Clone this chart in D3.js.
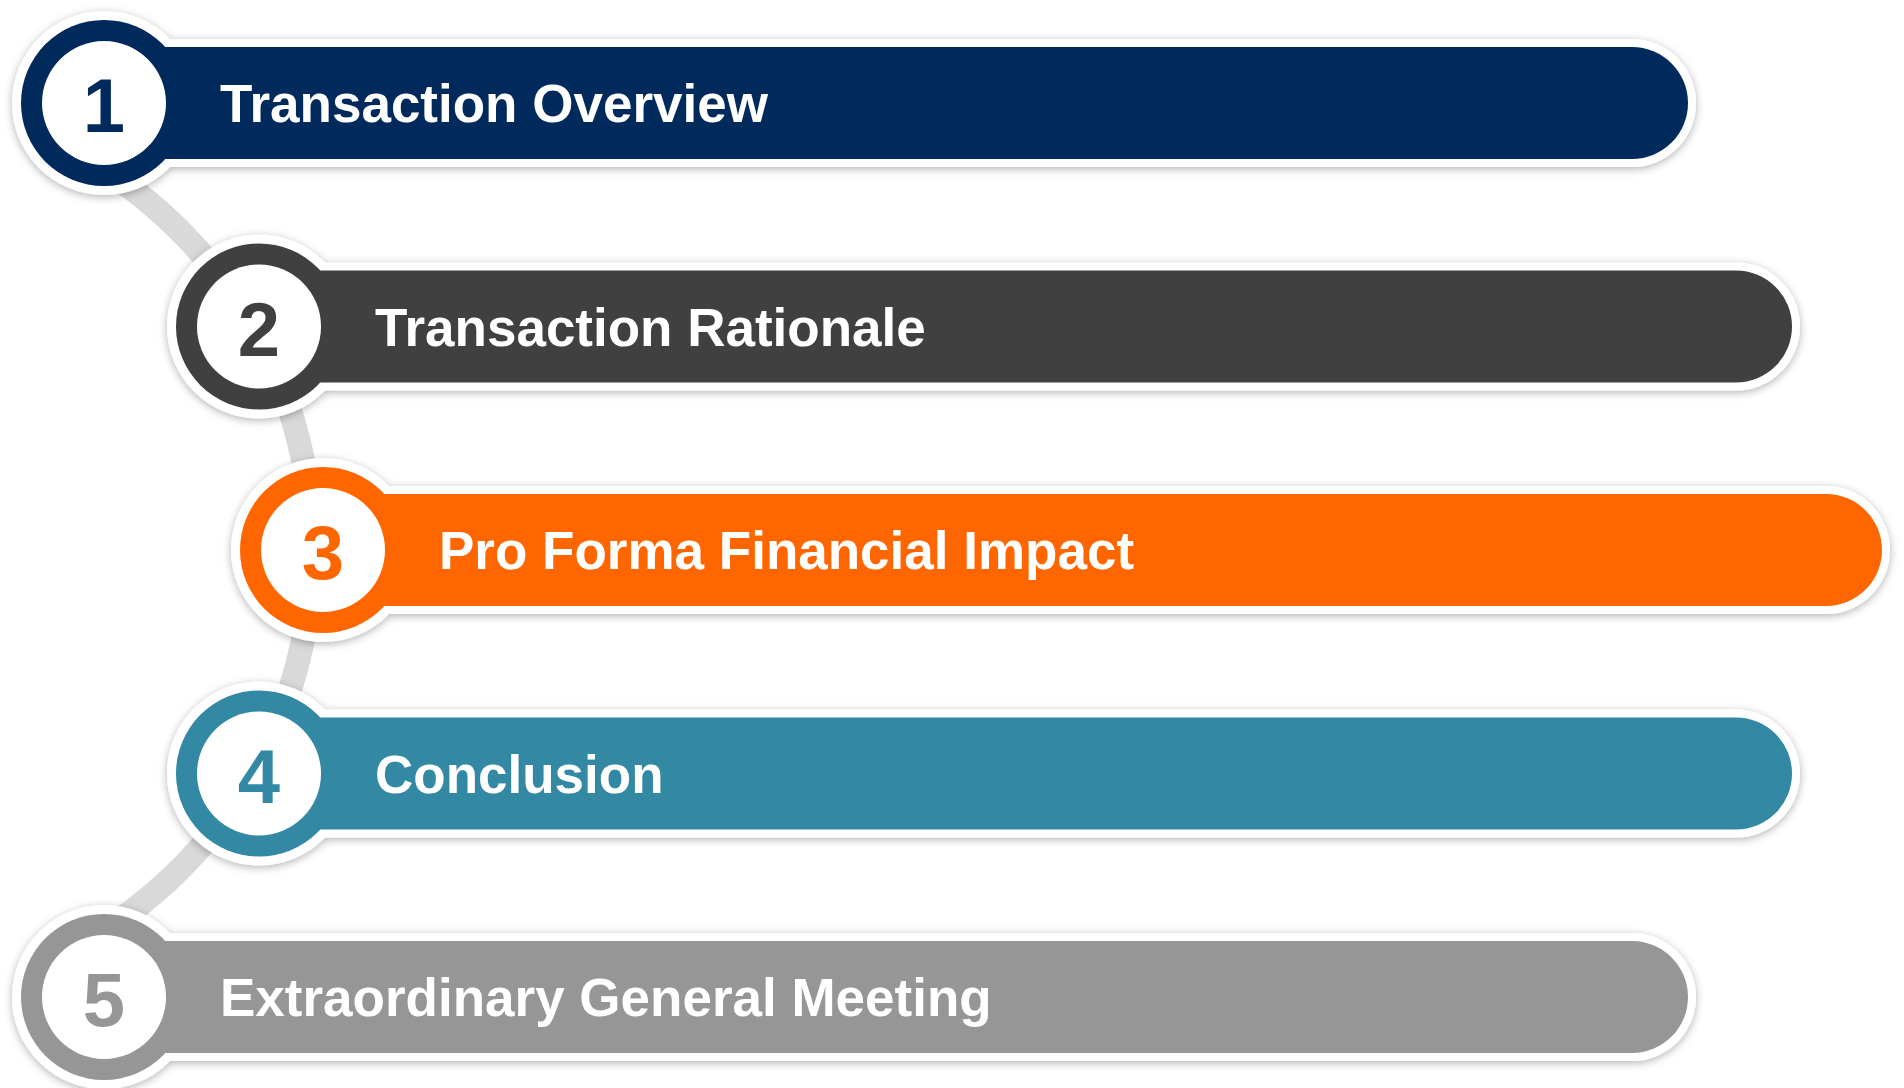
<!DOCTYPE html>
<html>
<head>
<meta charset="utf-8">
<script src="https://cdn.jsdelivr.net/npm/d3@7"></script>
<style>
  html, body { margin: 0; padding: 0; background: #fff; }
  svg { display: block; }
</style>
</head>
<body>
<div id="chart"></div>
<script>
// Agenda steps
const stepNumbers = ["1", "2", "3", "4", "5"];
const stepLabels = [
    "Transaction Overview",
    "Transaction Rationale",
    "Pro Forma Financial Impact",
    "Conclusion",
    "Extraordinary General Meeting"
];
// how far each step is pushed to the right (0 = leftmost)
const stepLevels = [0, 1, 2, 1, 0];

// palette, one per step
const stepColors = ["#002a5c", "#404040", "#ff6600", "#3389a3", "#969696"];

const width = 1904;
const height = 1088;

const svg = d3.select("#chart")
    .append("svg")
    .attr("width", width)
    .attr("height", height)
    .attr("viewBox", `0 0 ${width} ${height}`);

// soft shadow under the white outlines
const defs = svg.append("defs");
const shadow = defs.append("filter")
    .attr("id", "shadow")
    .attr("x", "-10%").attr("y", "-30%")
    .attr("width", "120%").attr("height", "160%");
shadow.append("feDropShadow")
    .attr("dx", 0)
    .attr("dy", 2)
    .attr("stdDeviation", 4)
    .attr("flood-color", "#000")
    .attr("flood-opacity", 0.3);

const steps = stepNumbers.map((n, i) => ({
    num: n,
    label: stepLabels[i],
    level: stepLevels[i],
    color: stepColors[i]
}));

// scales
const y = d3.scalePoint()
    .domain(stepNumbers)
    .range([103, 997]);

const cx = d3.scaleOrdinal()
    .domain([0, 1, 2])
    .range([104, 259, 323]);

const barEnd = d3.scaleOrdinal()
    .domain([0, 1, 2])
    .range([1688, 1792, 1882]);

// sizes
const ringR = 92, discR = 83, innerR = 62;
const barHalf = 56, border = 8;

// grey connector arc behind the circles, ending inside the first and last circle
const arcCenter = [-140, 550], arcR = 452;
const dyEnd = arcCenter[1] - (y("1") + 70);
const a0 = Math.asin(Math.sqrt(arcR * arcR - dyEnd * dyEnd) / arcR);
svg.append("path")
    .attr("transform", `translate(${arcCenter[0]},${arcCenter[1]})`)
    .attr("d", d3.arc()
        .innerRadius(arcR - 12)
        .outerRadius(arcR + 12)
        .startAngle(a0)
        .endAngle(Math.PI - a0)())
    .attr("fill", "#d9d9d9");

// pill shape: flat on the left, round on the right
function pill(x0, x1, yc, h) {
    const p = d3.path();
    p.moveTo(x0, yc - h);
    p.lineTo(x1 - h, yc - h);
    p.arc(x1 - h, yc, h, -Math.PI / 2, Math.PI / 2);
    p.lineTo(x0, yc + h);
    p.closePath();
    return p.toString();
}

const rows = svg.selectAll("g.step")
    .data(steps)
    .enter()
    .append("g")
    .attr("class", "step");

// white outline with shadow (bar + ring as one shape)
const outline = rows.append("g").attr("filter", "url(#shadow)");
outline.append("path")
    .attr("d", d => pill(cx(d.level), barEnd(d.level) + border, y(d.num), barHalf + border))
    .attr("fill", "#fff");
outline.append("circle")
    .attr("cx", d => cx(d.level))
    .attr("cy", d => y(d.num))
    .attr("r", ringR)
    .attr("fill", "#fff");

// coloured bar and disc
rows.append("path")
    .attr("d", d => pill(cx(d.level), barEnd(d.level), y(d.num), barHalf))
    .attr("fill", d => d.color);
rows.append("circle")
    .attr("cx", d => cx(d.level))
    .attr("cy", d => y(d.num))
    .attr("r", discR)
    .attr("fill", d => d.color);

// inner white circle with the number
rows.append("circle")
    .attr("cx", d => cx(d.level))
    .attr("cy", d => y(d.num))
    .attr("r", innerR)
    .attr("fill", "#fff");

rows.append("text")
    .attr("x", d => cx(d.level))
    .attr("y", d => y(d.num) + 29)
    .attr("text-anchor", "middle")
    .style("font-family", "'Liberation Sans', Arial, sans-serif")
    .style("font-weight", "bold")
    .style("font-size", "76px")
    .attr("fill", d => d.color)
    .text(d => d.num);

// label
rows.append("text")
    .attr("x", d => cx(d.level) + 116)
    .attr("y", d => y(d.num) + 19)
    .style("font-family", "'Liberation Sans', Arial, sans-serif")
    .style("font-weight", "bold")
    .style("font-size", "53px")
    .attr("fill", "#fff")
    .text(d => d.label);
</script>
</body>
</html>
